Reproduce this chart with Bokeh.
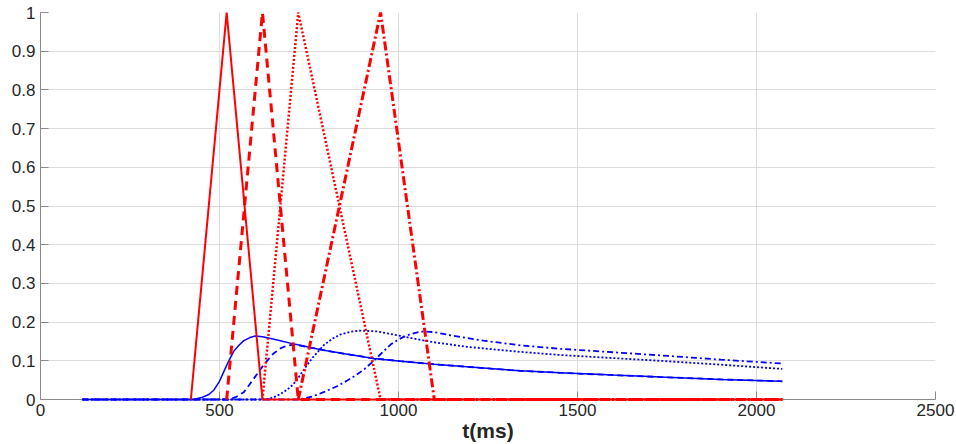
from bokeh.plotting import figure
from bokeh.models import Range1d, FixedTicker
from bokeh.embed import file_html
from bokeh.resources import INLINE

# ---- data ----
x_ticks = [0, 500, 1000, 1500, 2000, 2500]
y_ticks = [0, 0.1, 0.2, 0.3, 0.4, 0.5, 0.6, 0.7, 0.8, 0.9, 1]
y_labels = ["0", "0.1", "0.2", "0.3", "0.4", "0.5", "0.6", "0.7", "0.8", "0.9", "1"]
x_label = "t(ms)"

red_solid_t = [420, 520, 620, 2072]
red_solid_v = [0, 1, 0, 0]
red_dash_t = [520, 620, 720, 2072]
red_dash_v = [0, 1, 0, 0]
red_dot_t = [620, 720, 950, 2072]
red_dot_v = [0, 1, 0, 0]
red_dashdot_t = [720, 950, 1100, 2072]
red_dashdot_v = [0, 1, 0, 0]

blue_solid_t = [117, 428, 450, 470, 484, 500, 512, 526, 540, 555, 568, 585, 600, 620, 640, 670, 700, 726,
                760, 800, 850, 931, 1006, 1100, 1200, 1341, 1452, 1600, 1732, 1900, 2072]
blue_solid_v = [0, 0, 0.005, 0.013, 0.024, 0.047, 0.072, 0.1, 0.125, 0.141, 0.152, 0.16, 0.164, 0.162,
                0.158, 0.152, 0.145, 0.14, 0.133, 0.126, 0.118, 0.106, 0.099, 0.091, 0.084, 0.074, 0.069,
                0.063, 0.058, 0.052, 0.047]

blue_dash_t = [117, 525, 545, 568, 585, 605, 620, 633, 650, 670, 690, 710, 726,
               760, 800, 850, 931, 1006, 1100, 1200, 1341, 1452, 1600, 1732, 1900, 2072]
blue_dash_v = [0, 0, 0.006, 0.019, 0.04, 0.066, 0.085, 0.1, 0.118, 0.132, 0.14, 0.141, 0.139,
               0.133, 0.126, 0.118, 0.106, 0.099, 0.091, 0.084, 0.074, 0.069, 0.063, 0.058, 0.052, 0.047]

blue_dot_t = [117, 630, 650, 670, 690, 705, 720, 740, 760, 791, 815, 838, 865, 894, 940, 996, 1050,
              1099, 1192, 1341, 1452, 1600, 1732, 1900, 2072]
blue_dot_v = [0, 0, 0.005, 0.014, 0.026, 0.038, 0.056, 0.083, 0.108, 0.14, 0.157, 0.168, 0.175, 0.178,
              0.176, 0.166, 0.156, 0.148, 0.136, 0.123, 0.115, 0.107, 0.1, 0.09, 0.079]

blue_dashdot_t = [117, 720, 760, 791, 830, 857, 880, 903, 931, 955, 978, 1000, 1024, 1050, 1071, 1100,
                  1145, 1238, 1341, 1452, 1600, 1732, 1900, 2072]
blue_dashdot_v = [0, 0, 0.008, 0.019, 0.035, 0.049, 0.062, 0.077, 0.1, 0.122, 0.142, 0.155, 0.166,
                  0.173, 0.176, 0.174, 0.166, 0.152, 0.14, 0.131, 0.122, 0.114, 0.103, 0.093]

# ---- figure ----
FONT = "Liberation Sans"
p = figure(width=956, height=444, x_range=Range1d(0, 2500), y_range=Range1d(0, 1),
           output_backend="svg", toolbar_location=None,
           min_border_left=40, min_border_right=21, min_border_top=12, min_border_bottom=45)
p.outline_line_color = None
p.background_fill_color = "white"

BLUE = "#0000ff"
RED = "#ff0000"

p.line(blue_solid_t, blue_solid_v, line_color=BLUE, line_width=1.5, level="overlay")
p.line(blue_dash_t, blue_dash_v, line_color=BLUE, line_width=1.8, line_dash="6 4", level="overlay")
p.line(blue_dot_t, blue_dot_v, line_color=BLUE, line_width=1.8, line_dash="2 2", level="overlay")
p.line(blue_dashdot_t, blue_dashdot_v, line_color=BLUE, line_width=1.8, line_dash="6 3 2 3", level="overlay")

p.line(red_solid_t, red_solid_v, line_color=RED, line_width=2, level="overlay")
p.line(red_dash_t, red_dash_v, line_color=RED, line_width=3, line_dash="9 6", level="overlay")
p.line(red_dot_t, red_dot_v, line_color=RED, line_width=2.5, line_dash="2 2", level="overlay")
p.line(red_dashdot_t, red_dashdot_v, line_color=RED, line_width=3, line_dash="9 3 2 3", level="overlay")

p.xaxis.ticker = FixedTicker(ticks=x_ticks)
p.yaxis.ticker = FixedTicker(ticks=y_ticks)
p.yaxis.major_label_overrides = {t: l for t, l in zip(y_ticks, y_labels)}
p.xgrid.ticker = FixedTicker(ticks=x_ticks)
p.ygrid.ticker = FixedTicker(ticks=y_ticks)
p.grid.grid_line_color = "#dcdcdc"
p.grid.grid_line_width = 1

for ax in (p.xaxis[0], p.yaxis[0]):
    ax.axis_line_color = "#8a8a8a"
    ax.major_tick_line_color = "#8a8a8a"
    ax.major_tick_in = 8
    ax.major_tick_out = 0
    ax.minor_tick_line_color = None
    ax.major_label_text_font = FONT
    ax.major_label_text_font_size = "17px"
    ax.major_label_text_color = "#262626"
    ax.major_label_standoff = 5

p.xaxis.major_label_standoff = 4
p.xaxis.axis_label = x_label
p.xaxis.axis_label_text_font = FONT
p.xaxis.axis_label_text_font_size = "21px"
p.xaxis.axis_label_text_font_style = "bold"
p.xaxis.axis_label_text_color = "#262626"
p.xaxis.axis_label_standoff = 0

open("out.html", "w").write(file_html(p, INLINE))
